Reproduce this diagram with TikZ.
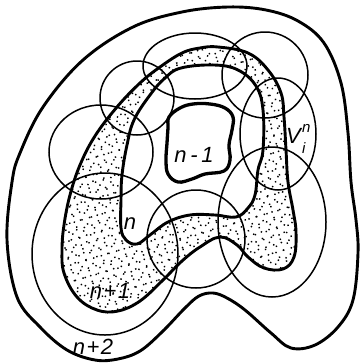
\documentclass[tikz,border=0pt]{standalone}
\usepackage{fontspec}
\newfontfamily\lblfont{Liberation Sans}
\usetikzlibrary{patterns.meta}
\tikzset{
  bound/.style={line width=2.9pt, line join=round},
  blobline/.style={line width=3.3pt, line join=round},
  cover/.style={line width=1.5pt},
  stippleA/.style={pattern={Dots[distance=8pt,radius=1pt,angle=17]}},
  stippleB/.style={even odd rule, pattern={Dots[distance=8pt,radius=1pt,angle=61,xshift=3pt,yshift=2pt]}},
  lbl/.style={font=\fontsize{22}{22}\selectfont\lblfont\itshape, inner sep=0pt},
  sublbl/.style={font=\fontsize{15}{15}\selectfont\lblfont\itshape, inner sep=0pt, anchor=base west},
}
\begin{document}
\begin{tikzpicture}[x=1pt,y=-1pt]
\useasboundingbox (0,0) rectangle (363,362);
\fill[white] (0,0) rectangle (363,362);

% stippled band (region n+1 minus region n)
\draw[bound, even odd rule, preaction={stippleB}, stippleA]
  plot[smooth cycle, tension=0.65] coordinates {
    (200,48) (218,47) (248,53) (268,70) (281,93) (284,117) (286,150) (288,182)
    (293,210) (296,232) (294,257) (283,269) (264,268) (248,257) (237,245)
    (220,237) (200,247) (182,261) (163,280) (140,301) (118,311) (97,310)
    (77,297) (64,273) (62,250) (64,225) (70,195) (80,165) (95,136) (117,107)
    (140,83) (160,67) (182,53)}
  plot[smooth cycle, tension=0.65] coordinates {
    (181,68) (214,65) (238,70) (256,86) (263,110) (263,150) (258,170) (255,195)
    (248,208) (236,217) (215,215) (190,215) (168,222) (150,235) (137,244)
    (126,240) (121,228) (121,200) (122,175) (127,145) (134,120) (150,95) (165,78)};

% covering sets V_i^n
\draw[cover] (137,98) circle[radius=37];
\draw[cover] (195,66) circle[x radius=52, y radius=33];
\draw[cover] (265,75) circle[radius=43];
\draw[cover] (278,134) circle[x radius=38, y radius=56];
\draw[cover] (101,152) circle[x radius=52, y radius=47];
\draw[cover] (105,254) circle[x radius=73, y radius=81];
\draw[cover] (196,239) circle[radius=49];
\draw[cover] (272,222) circle[x radius=54, y radius=75];

% region n-1
\draw[blobline] plot[smooth cycle, tension=0.65] coordinates {
  (169,117) (180,108) (193,104) (210,104) (225,108) (233,117) (232,130)
  (229,145) (230,160) (224,171) (205,174) (192,179) (178,182) (168,174)
  (166,160) (167,143) (168,128)};

% region n+2
\draw[bound] plot[smooth cycle, tension=0.6] coordinates {
  (182,12) (228,7) (266,10) (298,21) (324,43) (341,83) (348,133) (351,182)
  (356,220) (358,253) (353,300) (338,327) (315,345) (291,348) (271,333)
  (245,310) (227,298) (213,293) (199,296) (185,308) (162,332) (140,351)
  (118,359) (95,360) (67,350) (40,327) (17,297) (7,240) (12,182) (20,153)
  (43,107) (83,60) (133,27)};

% labels
\node[lbl] (lnm1) at (194,155) {n\,-\,1};
\node[lbl] (ln) at (130,224) {n};
\node[lbl] (lnp1) at (110,291) {n\hspace{1.5pt}+\hspace{1.5pt}1};
\node[lbl] (lnp2) at (93,347) {n\hspace{1.5pt}+\hspace{1.5pt}2};
\node[lbl, anchor=base west] (lV) at (286,143) {V};
\node[sublbl] (lVn) at (302,132) {n};
\node[sublbl] (lVi) at (302,153) {i};
\end{tikzpicture}
\end{document}
